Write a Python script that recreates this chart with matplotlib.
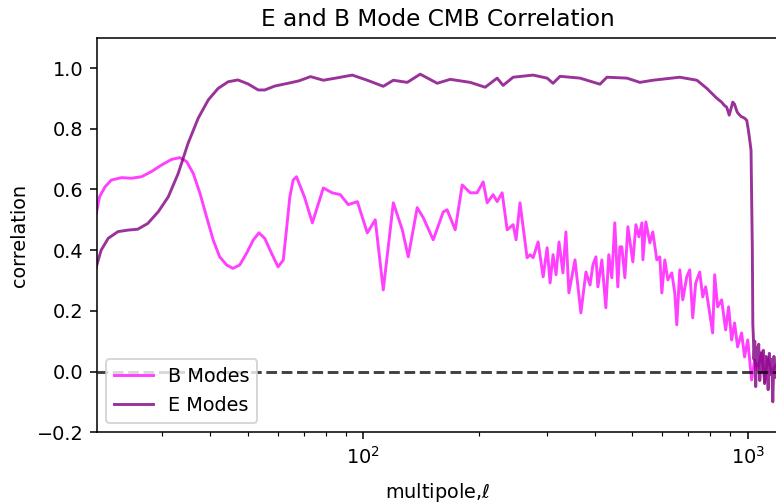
import matplotlib
matplotlib.use("Agg")
import matplotlib.pyplot as plt
import numpy as np

# E mode correlation
ell_e = [20.2, 20.8, 21.7, 23.0, 24.4, 25.9, 27.5, 29.3, 31.1, 33.0, 35.0, 37.2,
         39.5, 41.9, 44.5, 47.2, 50.1, 53.3, 55.4, 58.9, 63.7, 68.0, 72.9, 78.7,
         85.6, 93.6, 102.4, 112.7, 119.7, 130.1, 140.6, 155.7, 168.3, 189.7,
         207.5, 222.9, 231.0, 245.3, 276.5, 300.7, 311.6, 324.9, 366.2, 412.6,
         430.3, 485.0, 524.0, 566.3, 665.6, 737.7, 783.0, 830.3, 855.0, 868.0,
         881.8, 895.0, 914.5, 924.0, 935.0, 941.0, 960.0, 981.0, 994.0, 1004.0,
         1012.0, 1020.0, 1024.0, 1028.0, 1031.0, 1034.0, 1038.0, 1043.0, 1049.0,
         1055.0, 1061.0, 1068.0, 1075.0, 1082.0, 1090.0, 1098.0, 1106.0, 1114.0,
         1122.0, 1130.0, 1138.0, 1146.0, 1154.0, 1162.0, 1170.0, 1178.0, 1186.0,
         1195.0]
corr_e = [0.345, 0.40, 0.439, 0.461, 0.466, 0.469, 0.488, 0.527, 0.576, 0.653,
          0.752, 0.835, 0.895, 0.933, 0.955, 0.961, 0.948, 0.928, 0.928, 0.941,
          0.95, 0.958, 0.972, 0.96, 0.968, 0.977, 0.96, 0.94, 0.96, 0.953, 0.98,
          0.95, 0.963, 0.953, 0.937, 0.967, 0.943, 0.97, 0.977, 0.967, 0.95,
          0.973, 0.967, 0.947, 0.97, 0.967, 0.953, 0.96, 0.97, 0.96, 0.933,
          0.901, 0.888, 0.878, 0.871, 0.845, 0.888, 0.881, 0.861, 0.853, 0.841,
          0.835, 0.828, 0.795, 0.763, 0.729, 0.56, 0.40, 0.155, 0.12, 0.04, 0.10,
          -0.05, 0.08, 0.02, 0.09, -0.03, 0.06, 0.0, 0.07, -0.04, 0.05, 0.02,
          -0.06, 0.06, -0.01, 0.04, -0.10, 0.05, -0.02, 0.03, 0.0]

# B mode correlation
ell_b = [20.2, 20.6, 21.3, 22.1, 23.5, 24.9, 26.5, 28.1, 29.9, 31.7, 33.3, 34.7,
         36.1, 37.6, 39.1, 40.7, 42.3, 44.1, 45.8, 47.7, 49.7, 51.7, 53.5, 55.4,
         57.7, 60.0, 61.9, 63.1, 64.4, 65.7, 67.0, 70.3, 73.7, 78.7, 83.0, 87.1,
         91.4, 96.5, 102.4, 107.4, 112.7, 119.7, 126.3, 130.9, 138.1, 143.2,
         152.0, 161.4, 165.2, 173.4, 180.8, 189.7, 197.7, 205.0, 210.0, 217.6,
         222.9, 229.7, 236.7, 245.3, 249.7, 255.6, 266.7, 271.6, 276.5, 284.9,
         293.6, 300.7, 306.1, 311.6, 317.2, 322.9, 330.6, 336.5, 342.6, 355.3,
         368.1, 379.4, 388.8, 395.7, 402.8, 407.6, 417.4, 427.4, 435.1, 443.0,
         451.0, 459.2, 465.0, 470.4, 479.1, 487.8, 502.5, 511.8, 521.0, 530.6,
         533.7, 543.3, 556.4, 566.3, 580.1, 590.6, 597.7, 608.6, 619.6, 634.5,
         646.0, 653.8, 665.6, 677.6, 694.0, 706.5, 719.3, 732.3, 750.0, 763.6,
         777.3, 791.4, 810.6, 820.3, 835.1, 855.3, 876.0, 891.8, 907.9, 924.3,
         941.0, 963.8, 981.2, 1000.0, 1023.5, 1042.0, 1061.0, 1087.0, 1107.0,
         1127.0, 1154.0, 1175.0, 1195.0]
corr_b = [0.521, 0.576, 0.609, 0.631, 0.639, 0.637, 0.642, 0.659, 0.681, 0.699,
          0.705, 0.692, 0.653, 0.587, 0.51, 0.433, 0.378, 0.351, 0.340, 0.351,
          0.39, 0.433, 0.457, 0.439, 0.39, 0.345, 0.367, 0.466, 0.576, 0.631,
          0.642, 0.575, 0.49, 0.605, 0.589, 0.583, 0.55, 0.56, 0.457, 0.50,
          0.269, 0.556, 0.467, 0.378, 0.54, 0.507, 0.434, 0.526, 0.533, 0.467,
          0.615, 0.589, 0.589, 0.625, 0.556, 0.583, 0.56, 0.589, 0.467, 0.484,
          0.434, 0.556, 0.375, 0.385, 0.375, 0.427, 0.312, 0.408, 0.292, 0.385,
          0.319, 0.427, 0.325, 0.46, 0.259, 0.368, 0.193, 0.328, 0.285, 0.352,
          0.378, 0.279, 0.368, 0.21, 0.385, 0.309, 0.49, 0.279, 0.411, 0.411,
          0.309, 0.477, 0.361, 0.484, 0.444, 0.49, 0.368, 0.493, 0.424, 0.46,
          0.368, 0.378, 0.259, 0.368, 0.302, 0.325, 0.259, 0.154, 0.335, 0.236,
          0.312, 0.335, 0.177, 0.292, 0.328, 0.246, 0.279, 0.213, 0.127, 0.319,
          0.213, 0.236, 0.137, 0.213, 0.104, 0.16, 0.081, 0.127, 0.048, 0.104,
          -0.028, 0.038, 0.005, 0.065, -0.035, 0.048, -0.005, 0.015, 0.025]

# the reference is a matplotlib figure with default styling rendered at ~139 dpi
fig = plt.figure(figsize=(776 / 139, 503 / 139), dpi=139)
ax = fig.add_axes([0.1246, 0.1408, 0.8782, 0.7841])

ax.plot(ell_b, corr_b, color='magenta', alpha=0.75, label='B Modes')
ax.plot(ell_e, corr_e, color='purple', alpha=0.8, label='E Modes')
ax.axhline(0, color='k', ls='--', alpha=0.75)

ax.set_xscale('log')
ax.set_xlim(20.25, 1200)
ax.set_ylim(-0.2, 1.1)

ax.set_title('E and B Mode CMB Correlation')
ax.set_xlabel(r'multipole,$\ell$', labelpad=7)
ax.set_ylabel('correlation')
ax.legend(loc='lower left')

fig.savefig('out.png', dpi=139)
